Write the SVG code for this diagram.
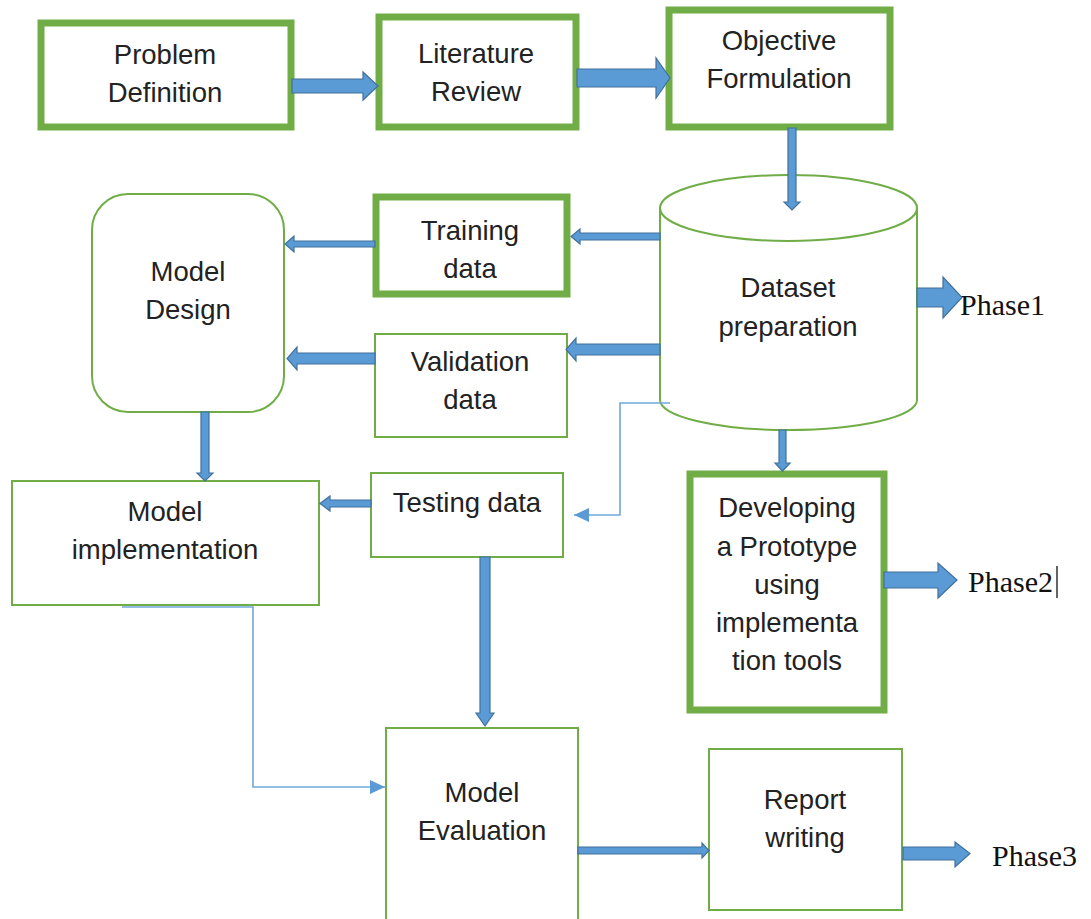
<svg xmlns="http://www.w3.org/2000/svg" width="1091" height="919" viewBox="0 0 1091 919">
<defs>
<style>
.thick{fill:#fff;stroke:#70AD47;stroke-width:7}
.thin{fill:#fff;stroke:#70AD47;stroke-width:2}
.t{font-family:"Liberation Sans",Arial,sans-serif;font-size:27.5px;fill:#222;text-anchor:middle}
.ph{font-family:"Liberation Serif","Times New Roman",serif;font-size:30px;fill:#111}
.ba{fill:#5B9BD5;stroke:#41719C;stroke-width:1.2}
.ln{fill:none;stroke:#6FA8DC;stroke-width:1.6}
</style>
<marker id="tri" markerWidth="16" markerHeight="14" refX="15" refY="7" orient="auto" markerUnits="userSpaceOnUse">
<path d="M0,0 L15,7 L0,14 Z" fill="#5B9BD5"/>
</marker>
</defs>
<rect width="1091" height="919" fill="#fff"/>

<g id="problem-definition">
<rect class="thick" x="41" y="23" width="250" height="104"/>
<text class="t" x="165" y="64">Problem</text>
<text class="t" x="165" y="102">Definition</text>
</g>
<g id="literature-review">
<rect class="thick" x="379" y="17" width="197" height="110"/>
<text class="t" x="476" y="63">Literature</text>
<text class="t" x="476" y="101">Review</text>
</g>
<g id="objective-formulation">
<rect class="thick" x="669" y="10" width="221" height="117"/>
<text class="t" x="779" y="50">Objective</text>
<text class="t" x="779" y="88">Formulation</text>
</g>
<g id="dataset-preparation">
<path class="thin" d="M660,208 A128.5,33 0 0 1 917,208 L917,400 A128.5,30 0 0 1 660,400 Z"/>
<path class="thin" fill="none" d="M660,208 A128.5,33 0 0 0 917,208"/>
<text class="t" x="788" y="297">Dataset</text>
<text class="t" x="788" y="336">preparation</text>
</g>
<g id="training-data">
<rect class="thick" x="376" y="197" width="191" height="97"/>
<text class="t" x="470" y="240">Training</text>
<text class="t" x="470" y="278">data</text>
</g>
<g id="validation-data">
<rect class="thin" x="375" y="334" width="192" height="103"/>
<text class="t" x="470" y="371">Validation</text>
<text class="t" x="470" y="409">data</text>
</g>
<g id="model-design">
<rect class="thin" x="92" y="194" width="192" height="218" rx="36"/>
<text class="t" x="188" y="281">Model</text>
<text class="t" x="188" y="319">Design</text>
</g>
<g id="model-implementation">
<rect class="thin" x="12" y="481" width="307" height="124"/>
<text class="t" x="165" y="521">Model</text>
<text class="t" x="165" y="559">implementation</text>
</g>
<g id="testing-data">
<rect class="thin" x="371" y="473" width="192" height="84"/>
<text class="t" x="467" y="512">Testing data</text>
</g>
<g id="developing-prototype">
<rect class="thick" x="690" y="474" width="194" height="236"/>
<text class="t" x="787" y="517">Developing</text>
<text class="t" x="787" y="556">a Prototype</text>
<text class="t" x="787" y="594">using</text>
<text class="t" x="787" y="632">implementa</text>
<text class="t" x="787" y="670">tion tools</text>
</g>
<g id="model-evaluation">
<rect class="thin" x="386" y="728" width="192" height="195"/>
<text class="t" x="482" y="802">Model</text>
<text class="t" x="482" y="840">Evaluation</text>
</g>
<g id="report-writing">
<rect class="thin" x="709" y="749" width="193" height="161"/>
<text class="t" x="805" y="809">Report</text>
<text class="t" x="805" y="847">writing</text>
</g>
<g id="phase-labels">
<text class="ph" x="960" y="315">Phase1</text>
<text class="ph" x="968" y="592">Phase2</text>
<line x1="1057" y1="566" x2="1057" y2="598" stroke="#111" stroke-width="1.3"/>
<text class="ph" x="992" y="866">Phase3</text>
</g>

<g id="connectors">
<path class="ba" d="M292,79 L363,79 L363,72 L378,86 L363,100 L363,93 L292,93 Z"/>
<path class="ba" d="M577,69 L656,69 L656,58 L670,78 L656,98 L656,87 L577,87 Z"/>
<path class="ba" d="M788,128 L796,128 L796,202 L800,202 L792,210 L784,202 L788,202 Z"/>
<path class="ba" d="M660,233 L580,233 L580,229 L571,236.5 L580,244 L580,240 L660,240 Z"/>
<path class="ba" d="M660,344 L576,344 L576,338 L566,349.5 L576,361 L576,355 L660,355 Z"/>
<path class="ba" d="M375,241 L294,241 L294,236 L285,244 L294,252 L294,247 L375,247 Z"/>
<path class="ba" d="M375,353 L297,353 L297,347 L287,358.5 L297,370 L297,364 L375,364 Z"/>
<path class="ba" d="M201,412 L209,412 L209,473 L213,473 L205,481 L197,473 L201,473 Z"/>
<path class="ba" d="M371,500 L330,500 L330,496 L320,503.5 L330,511 L330,507 L371,507 Z"/>
<path class="ba" d="M779,430 L786,430 L786,463 L790,463 L782.5,471 L775,463 L779,463 Z"/>
<path class="ba" d="M480,557 L490,557 L490,713 L494,713 L485,726 L476,713 L480,713 Z"/>
<path class="ba" d="M578,847 L702,847 L702,843 L709,850.5 L702,858 L702,854 L578,854 Z"/>
<path class="ba" d="M917,288 L943,288 L943,277 L962,297.5 L943,318 L943,307 L917,307 Z"/>
<path class="ba" d="M884,572 L938,572 L938,563 L957,580 L938,598 L938,588 L884,588 Z"/>
<path class="ba" d="M903,847 L955,847 L955,842 L970,853.5 L955,867 L955,860 L903,860 Z"/>
<polyline class="ln" points="670,403 620,403 620,515 574,515" marker-end="url(#tri)"/>
<polyline class="ln" points="122,607 253,607 253,787 385,787" marker-end="url(#tri)"/>
</g>
</svg>
